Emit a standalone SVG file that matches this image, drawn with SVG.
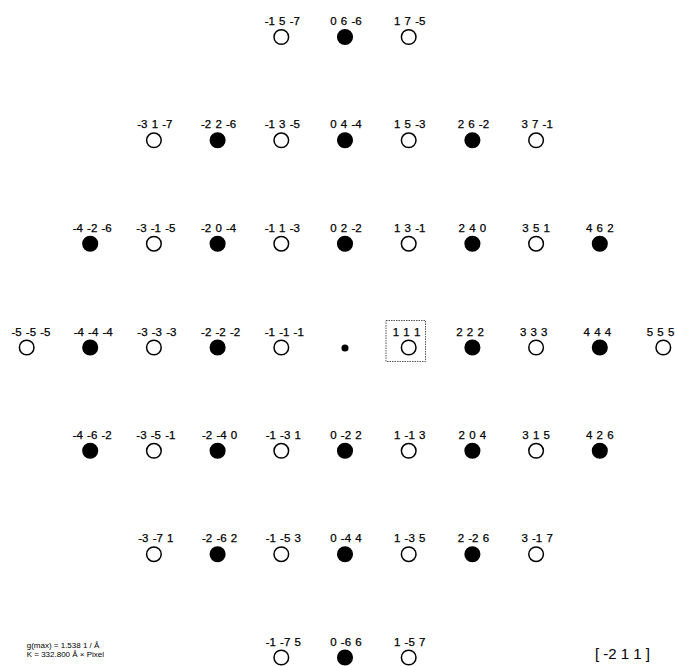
<svg xmlns="http://www.w3.org/2000/svg" width="675" height="666" viewBox="0 0 675 666">
<style>
.o{fill:#fff;stroke:#000;stroke-width:1.5}
.f{fill:#000;stroke:#000;stroke-width:1.5}
.l{font-family:"Liberation Sans",Arial,sans-serif;font-size:11.5px;text-anchor:middle;fill:#000;stroke:#000;stroke-width:0.25;word-spacing:1px}
.s{font-family:"Liberation Sans",Arial,sans-serif;font-size:8px;fill:#000}
.z{font-family:"Liberation Sans",Arial,sans-serif;font-size:15px;fill:#000}
</style>
<rect width="675" height="666" fill="#fff"/>
<g id="connectors"></g>
<!-- Row 1 -->
<g id="s-1_5_-7"><circle class="o" cx="281.3" cy="37" r="7.3"/><text class="l" x="282.3" y="25">-1 5 -7</text></g>
<g id="s0_6_-6"><circle class="f" cx="345" cy="37" r="7.3"/><text class="l" x="346" y="25">0 6 -6</text></g>
<g id="s1_7_-5"><circle class="o" cx="408.7" cy="37" r="7.3"/><text class="l" x="409.7" y="25">1 7 -5</text></g>
<!-- Row 2 -->
<g id="s-3_1_-7"><circle class="o" cx="153.9" cy="140.3" r="7.3"/><text class="l" x="154.9" y="128.3">-3 1 -7</text></g>
<g id="s-2_2_-6"><circle class="f" cx="217.6" cy="140.3" r="7.3"/><text class="l" x="218.6" y="128.3">-2 2 -6</text></g>
<g id="s-1_3_-5"><circle class="o" cx="281.3" cy="140.3" r="7.3"/><text class="l" x="282.3" y="128.3">-1 3 -5</text></g>
<g id="s0_4_-4"><circle class="f" cx="345" cy="140.3" r="7.3"/><text class="l" x="346" y="128.3">0 4 -4</text></g>
<g id="s1_5_-3"><circle class="o" cx="408.7" cy="140.3" r="7.3"/><text class="l" x="409.7" y="128.3">1 5 -3</text></g>
<g id="s2_6_-2"><circle class="f" cx="472.4" cy="140.3" r="7.3"/><text class="l" x="473.4" y="128.3">2 6 -2</text></g>
<g id="s3_7_-1"><circle class="o" cx="536.1" cy="140.3" r="7.3"/><text class="l" x="537.1" y="128.3">3 7 -1</text></g>
<!-- Row 3 -->
<g id="s-4_-2_-6"><circle class="f" cx="90.2" cy="243.7" r="7.3"/><text class="l" x="92.2" y="231.7">-4 -2 -6</text></g>
<g id="s-3_-1_-5"><circle class="o" cx="153.9" cy="243.7" r="7.3"/><text class="l" x="155.9" y="231.7">-3 -1 -5</text></g>
<g id="s-2_0_-4"><circle class="f" cx="217.6" cy="243.7" r="7.3"/><text class="l" x="218.6" y="231.7">-2 0 -4</text></g>
<g id="s-1_1_-3"><circle class="o" cx="281.3" cy="243.7" r="7.3"/><text class="l" x="282.3" y="231.7">-1 1 -3</text></g>
<g id="s0_2_-2"><circle class="f" cx="345" cy="243.7" r="7.3"/><text class="l" x="346" y="231.7">0 2 -2</text></g>
<g id="s1_3_-1"><circle class="o" cx="408.7" cy="243.7" r="7.3"/><text class="l" x="409.7" y="231.7">1 3 -1</text></g>
<g id="s2_4_0"><circle class="f" cx="472.4" cy="243.7" r="7.3"/><text class="l" x="472.4" y="231.7">2 4 0</text></g>
<g id="s3_5_1"><circle class="o" cx="536.1" cy="243.7" r="7.3"/><text class="l" x="536.1" y="231.7">3 5 1</text></g>
<g id="s4_6_2"><circle class="f" cx="599.8" cy="243.7" r="7.3"/><text class="l" x="599.8" y="231.7">4 6 2</text></g>
<!-- Row 4 -->
<g id="s-5_-5_-5"><circle class="o" cx="26.7" cy="347.5" r="7.3"/><text class="l" x="31" y="335.5">-5 -5 -5</text></g>
<g id="s-4_-4_-4"><circle class="f" cx="90.2" cy="347.5" r="7.3"/><text class="l" x="93.2" y="335.5">-4 -4 -4</text></g>
<g id="s-3_-3_-3"><circle class="o" cx="153.9" cy="347.5" r="7.3"/><text class="l" x="156.9" y="335.5">-3 -3 -3</text></g>
<g id="s-2_-2_-2"><circle class="f" cx="217.6" cy="347.5" r="7.3"/><text class="l" x="220.6" y="335.5">-2 -2 -2</text></g>
<g id="s-1_-1_-1"><circle class="o" cx="281.3" cy="347.5" r="7.3"/><text class="l" x="284.3" y="335.5">-1 -1 -1</text></g>
<g id="s0_0_0"><circle class="f" cx="345" cy="348" r="2.8"/></g>
<g id="s1_1_1"><rect x="386" y="320.5" width="39.5" height="41" fill="none" stroke="#555" stroke-width="1" stroke-dasharray="1.5,1"/><circle class="o" cx="408.7" cy="347.5" r="7.3"/><text class="l" x="406.5" y="335.5">1 1 1</text></g>
<g id="s2_2_2"><circle class="f" cx="472.4" cy="347.5" r="7.3"/><text class="l" x="470" y="335.5">2 2 2</text></g>
<g id="s3_3_3"><circle class="o" cx="536.1" cy="347.5" r="7.3"/><text class="l" x="533.7" y="335.5">3 3 3</text></g>
<g id="s4_4_4"><circle class="f" cx="599.8" cy="347.5" r="7.3"/><text class="l" x="597.4" y="335.5">4 4 4</text></g>
<g id="s5_5_5"><circle class="o" cx="663.3" cy="347.5" r="7.3"/><text class="l" x="660.5" y="335.5">5 5 5</text></g>
<!-- Row 5 -->
<g id="s-4_-6_-2"><circle class="f" cx="90.2" cy="450.8" r="7.3"/><text class="l" x="92.2" y="438.8">-4 -6 -2</text></g>
<g id="s-3_-5_-1"><circle class="o" cx="153.9" cy="450.8" r="7.3"/><text class="l" x="155.9" y="438.8">-3 -5 -1</text></g>
<g id="s-2_-4_0"><circle class="f" cx="217.6" cy="450.8" r="7.3"/><text class="l" x="219.6" y="438.8">-2 -4 0</text></g>
<g id="s-1_-3_1"><circle class="o" cx="281.3" cy="450.8" r="7.3"/><text class="l" x="283.3" y="438.8">-1 -3 1</text></g>
<g id="s0_-2_2"><circle class="f" cx="345" cy="450.8" r="7.3"/><text class="l" x="346" y="438.8">0 -2 2</text></g>
<g id="s1_-1_3"><circle class="o" cx="408.7" cy="450.8" r="7.3"/><text class="l" x="409.7" y="438.8">1 -1 3</text></g>
<g id="s2_0_4"><circle class="f" cx="472.4" cy="450.8" r="7.3"/><text class="l" x="472.4" y="438.8">2 0 4</text></g>
<g id="s3_1_5"><circle class="o" cx="536.1" cy="450.8" r="7.3"/><text class="l" x="536.1" y="438.8">3 1 5</text></g>
<g id="s4_2_6"><circle class="f" cx="599.8" cy="450.8" r="7.3"/><text class="l" x="599.8" y="438.8">4 2 6</text></g>
<!-- Row 6 -->
<g id="s-3_-7_1"><circle class="o" cx="153.9" cy="554.2" r="7.3"/><text class="l" x="155.9" y="542.2">-3 -7 1</text></g>
<g id="s-2_-6_2"><circle class="f" cx="217.6" cy="554.2" r="7.3"/><text class="l" x="219.6" y="542.2">-2 -6 2</text></g>
<g id="s-1_-5_3"><circle class="o" cx="281.3" cy="554.2" r="7.3"/><text class="l" x="283.3" y="542.2">-1 -5 3</text></g>
<g id="s0_-4_4"><circle class="f" cx="345" cy="554.2" r="7.3"/><text class="l" x="346" y="542.2">0 -4 4</text></g>
<g id="s1_-3_5"><circle class="o" cx="408.7" cy="554.2" r="7.3"/><text class="l" x="409.7" y="542.2">1 -3 5</text></g>
<g id="s2_-2_6"><circle class="f" cx="472.4" cy="554.2" r="7.3"/><text class="l" x="473.4" y="542.2">2 -2 6</text></g>
<g id="s3_-1_7"><circle class="o" cx="536.1" cy="554.2" r="7.3"/><text class="l" x="537.1" y="542.2">3 -1 7</text></g>
<!-- Row 7 -->
<g id="s-1_-7_5"><circle class="o" cx="281.3" cy="657.5" r="7.3"/><text class="l" x="283.3" y="645.5">-1 -7 5</text></g>
<g id="s0_-6_6"><circle class="f" cx="345" cy="657.5" r="7.3"/><text class="l" x="346" y="645.5">0 -6 6</text></g>
<g id="s1_-5_7"><circle class="o" cx="408.7" cy="657.5" r="7.3"/><text class="l" x="409.7" y="645.5">1 -5 7</text></g>
<!-- Info -->
<g id="info">
<text class="s" x="26.7" y="647.5">g(max) = 1.538  1 / Å</text>
<text class="s" x="26.7" y="656.5">K = 332.800 Å ×  Pixel</text>
</g>
<g id="zone"><text class="z" x="595" y="658.5">[ -2 1 1 ]</text></g>
</svg>
